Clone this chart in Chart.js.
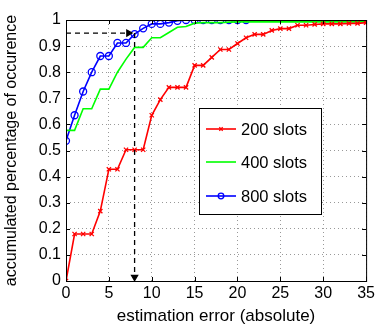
<!DOCTYPE html>
<html lang="en">
<head>
    <meta charset="UTF-8">
    <title>Estimation error CDF</title>
    <script src="https://cdn.jsdelivr.net/npm/chart.js"></script>
    <style>
        body { margin: 0; background: #fff; }
        #wrap { width: 378px; height: 327px; }
    </style>
</head>
<body>
<div id="wrap"><canvas id="cdfChart" width="378" height="327"></canvas></div>
<script>
    // estimation error (absolute), 0..35
    const errors = [0,1,2,3,4,5,6,7,8,9,10,11,12,13,14,15,16,17,18,19,20,21,22,23,24,25,26,27,28,29,30,31,32,33,34,35];
    const slots200 = [0, .18, .18, .18, .268, .428, .428, .503, .503, .503, .635, .695, .742, .742, .742, .826, .826, .857, .887, .887,
                      .91, .932, .945, .945, .96, .967, .967, .98, .98, .983, .985, .985, .985, .987, .987, .99];
    const slots400 = [.577, .577, .66, .66, .735, .735, .80, .85, .895, .895, .932, .932, .952, .972, .975, .988, .99, .99, .99, .992,
                      .993, .993, .993, .993, .993, .993, .993, .993, .993, .993, .993, .993, .993, .993, .993, .993];
    const slots800 = [.537, .635, .726, .80, .862, .862, .912, .912, .946, .968, .985, .985, .99, .997, 1, 1, 1, 1, 1, 1, 1, 1];
    const seriesNames = ['200 slots', '400 slots', '800 slots'];
    const xTicks = [0, 5, 10, 15, 20, 25, 30, 35];
    const yTicks = [0, .1, .2, .3, .4, .5, .6, .7, .8, .9, 1];
    // reading guide: 95% reached at error 8
    const targetLevel = 0.95;
    const targetError = 8;
    const arrowEndX = 7.3;
    const arrowEndY = 0.015;

    const pts = (ys) => ys.map((y, i) => ({ x: errors[i], y: y }));
    const FONT = "'Liberation Sans', Arial, Helvetica, sans-serif";

    // MATLAB-like box, inward ticks and legend drawn inside the plot
    const boxAndLegend = {
        id: 'boxAndLegend',
        afterDraw(chart) {
            const { ctx, chartArea: a, scales } = chart;
            ctx.save();
            ctx.strokeStyle = '#000';
            ctx.lineWidth = 1;
            ctx.strokeRect(a.left + 0.5, a.top + 0.5, a.right - a.left, a.bottom - a.top);

            // inward tick marks
            const tl = 4;
            ctx.beginPath();
            xTicks.forEach(v => {
                const px = Math.round(scales.x.getPixelForValue(v)) + 0.5;
                ctx.moveTo(px, a.bottom); ctx.lineTo(px, a.bottom - tl);
                ctx.moveTo(px, a.top); ctx.lineTo(px, a.top + tl);
            });
            yTicks.forEach(v => {
                const py = Math.round(scales.y.getPixelForValue(v)) + 0.5;
                ctx.moveTo(a.left, py); ctx.lineTo(a.left + tl, py);
                ctx.moveTo(a.right, py); ctx.lineTo(a.right - tl, py);
            });
            ctx.stroke();

            // legend box
            const lx = 199.5, ly = 108.5, lw = 122, lh = 106;
            ctx.fillStyle = '#fff';
            ctx.fillRect(lx, ly, lw, lh);
            ctx.strokeRect(lx, ly, lw, lh);
            ctx.font = '16.5px ' + FONT;
            ctx.textBaseline = 'middle';
            const rows = [129, 162, 196];
            chart.data.datasets.slice(0, 3).forEach((ds, i) => {
                const y = rows[i];
                ctx.strokeStyle = ds.borderColor;
                ctx.lineWidth = ds.borderWidth;
                ctx.beginPath();
                ctx.moveTo(206, y);
                ctx.lineTo(236, y);
                ctx.stroke();
                if (ds.pointRadius > 0) {
                    ctx.fillStyle = 'rgba(0,0,0,0)';
                    ctx.lineWidth = ds.pointBorderWidth;
                    Chart.helpers.drawPoint(ctx, {
                        pointStyle: ds.pointStyle, radius: ds.pointRadius * 0.8, rotation: 0,
                        borderWidth: ds.pointBorderWidth
                    }, 221, y);
                }
                ctx.fillStyle = '#000';
                ctx.fillText(ds.label, 241, y + 1);
            });
            ctx.restore();
        }
    };

    new Chart(document.getElementById('cdfChart'), {
        type: 'line',
        data: {
            datasets: [
                {
                    label: seriesNames[0], data: pts(slots200),
                    borderColor: '#ff0000', backgroundColor: '#ff0000', borderWidth: 1.6,
                    pointStyle: 'crossRot', pointRadius: 3, pointBorderWidth: 1.3, pointBorderColor: '#ff0000'
                },
                {
                    label: seriesNames[1], data: pts(slots400),
                    borderColor: '#00ff00', backgroundColor: '#00ff00', borderWidth: 1.6,
                    pointRadius: 0
                },
                {
                    label: seriesNames[2], data: pts(slots800),
                    borderColor: '#0000ff', backgroundColor: 'rgba(0,0,0,0)', borderWidth: 1.6,
                    pointStyle: 'circle', pointRadius: 3.5, pointBorderWidth: 1.3,
                    pointBorderColor: '#0000ff', pointBackgroundColor: 'rgba(0,0,0,0)'
                },
                {
                    label: 'guideH', data: [{ x: 0, y: targetLevel }, { x: arrowEndX, y: targetLevel }],
                    borderColor: '#000', borderWidth: 1.3, borderDash: [5, 4],
                    pointStyle: 'triangle', pointRadius: [0, 3.5], rotation: 90,
                    pointBackgroundColor: '#000', pointBorderColor: '#000', order: -1
                },
                {
                    label: 'guideV', data: [{ x: targetError, y: targetLevel }, { x: targetError, y: arrowEndY }],
                    borderColor: '#000', borderWidth: 1.3, borderDash: [5, 4],
                    pointStyle: 'triangle', pointRadius: [0, 3.5], rotation: 180,
                    pointBackgroundColor: '#000', pointBorderColor: '#000', order: -1
                }
            ]
        },
        options: {
            responsive: false,
            animation: false,
            layout: { padding: { top: 20, right: 9, left: 2, bottom: 0 } },
            plugins: { legend: { display: false }, tooltip: { enabled: false } },
            elements: { line: { tension: 0 } },
            scales: {
                x: {
                    type: 'linear', min: 0, max: 35,
                    afterBuildTicks: s => { s.ticks = xTicks.map(v => ({ value: v })); },
                    afterFit: s => { s.height = 46; },
                    grid: { color: '#999999', drawTicks: false, lineWidth: 1 },
                    border: { display: false, dash: [1, 3] },
                    ticks: { color: '#000', padding: 3, font: { family: FONT, size: 16 } },
                    title: { display: true, text: 'estimation error (absolute)', color: '#000',
                             font: { family: FONT, size: 17 }, padding: { top: 1, bottom: 0 } }
                },
                y: {
                    type: 'linear', min: 0, max: 1,
                    afterBuildTicks: s => { s.ticks = yTicks.map(v => ({ value: v })); },
                    afterFit: s => { s.width = 64; },
                    grid: { color: '#999999', drawTicks: false, lineWidth: 1 },
                    border: { display: false, dash: [1, 3] },
                    ticks: {
                        color: '#000', padding: 5, font: { family: FONT, size: 16 },
                        callback: v => (v === 0 || v === 1) ? String(v) : v.toFixed(1)
                    },
                    title: { display: true, text: 'accumulated percentage of occurence', color: '#000',
                             font: { family: FONT, size: 16 }, padding: { top: 0, bottom: 2 } }
                }
            }
        },
        plugins: [boxAndLegend]
    });
</script>
</body>
</html>
